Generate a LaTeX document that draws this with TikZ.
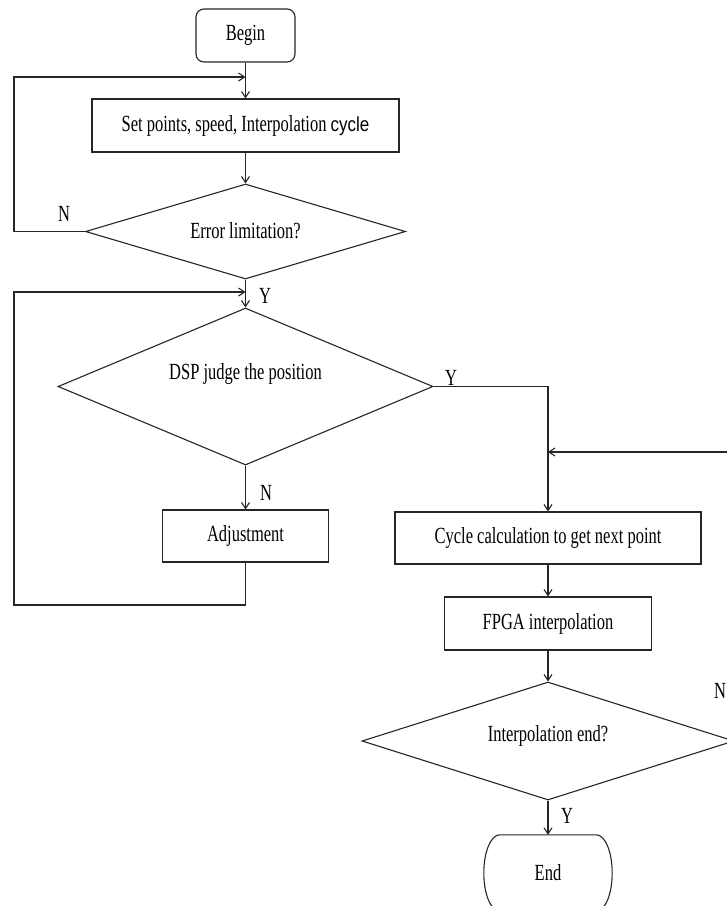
\documentclass[tikz,border=0pt]{standalone}
\usepackage{graphicx}
\usepackage{fontspec}
\setmainfont{Liberation Serif}
\newfontfamily\arialf{Liberation Sans}
\usetikzlibrary{shapes.geometric,arrows.meta}
\newcommand{\vstretch}[1]{\raisebox{-1.5pt}{\scalebox{1}[1.4]{#1}}}
\tikzset{
  ln/.style={line width=1.1pt, draw=black!85},
  arr/.style={ln, -{Straight Barb[length=6pt,width=8pt]}},
  txt/.style={font=\fontsize{16.5}{18}\selectfont, text=black},
  stepbox/.style={ln, txt, rectangle, inner sep=0pt},
  termbox/.style={ln, txt, rectangle, rounded corners=8pt, inner sep=0pt},
  endbox/.style={txt, rectangle, inner sep=0pt},
  decbox/.style={ln, txt, diamond, inner sep=0pt},
  lbl/.style={txt, inner sep=0pt}
}
\begin{document}
\begin{tikzpicture}[x=1pt,y=-1pt]
\useasboundingbox (0,0) rectangle (727,906);
\clip (0,0) rectangle (727,906);
\fill[white] (0,0) rectangle (727,906);

% left column
\node[termbox, minimum width=99pt, minimum height=53pt] (begin) at (245.5,35.5) {\vstretch{Begin}};
\node[stepbox, minimum width=307pt, minimum height=53pt] (set) at (245.5,125.5)
  {\vstretch{Set points, speed, Interpolation {\arialf\fontsize{17}{18}\selectfont\scalebox{1}[0.85]{cycle}}}};
\node[decbox, aspect=3.37, minimum width=320pt, minimum height=95pt] (err) at (245.5,231.5)
  {\raisebox{4pt}{\vstretch{Error limitation?}}};
\node[decbox, aspect=2.4, minimum width=375pt, minimum height=157pt] (dsp) at (245.5,386.5)
  {\raisebox{32pt}{\vstretch{DSP judge the position}}};
\node[stepbox, minimum width=166pt, minimum height=52pt] (adj) at (245.5,536) {\vstretch{Adjustment}};

% right column
\node[stepbox, minimum width=306pt, minimum height=52pt] (cyc) at (548,538)
  {\vstretch{Cycle calculation to get next point}};
\node[stepbox, minimum width=207pt, minimum height=53pt] (fpga) at (548,623.5)
  {\vstretch{FPGA interpolation}};
\node[decbox, aspect=3.15, minimum width=372pt, minimum height=118pt] (ie) at (548,741)
  {\raisebox{16pt}{\vstretch{Interpolation end?}}};
\node[endbox, minimum width=128pt, minimum height=76pt] (end) at (548,873) {\raisebox{-4pt}{\vstretch{End}}};
\draw[ln] ([xshift=16pt]end.north west) -- ([xshift=-16pt]end.north east)
  .. controls ([xshift=-7pt]end.north east) and ([yshift=21pt]end.east) .. (end.east)
  .. controls ([yshift=-21pt]end.east) and ([xshift=-7pt]end.south east) .. ([xshift=-16pt]end.south east)
  -- ([xshift=16pt]end.south west)
  .. controls ([xshift=7pt]end.south west) and ([yshift=-21pt]end.west) .. (end.west)
  .. controls ([yshift=21pt]end.west) and ([xshift=7pt]end.north west) .. ([xshift=16pt]end.north west) -- cycle;

% labels
\node[lbl] (nerr) at (64,214) {\vstretch{N}};
\node[lbl] (yerr) at (265,296) {\vstretch{Y}};
\node[lbl] (ndsp) at (266,493) {\vstretch{N}};
\node[lbl] (ydsp) at (451,378) {\vstretch{Y}};
\node[lbl] (yie) at (567,816) {\vstretch{Y}};
\node[lbl] (nie) at (720,691) {\vstretch{N}};

% helper coordinates
\coordinate (l1a) at (14,231.5);
\coordinate (l1b) at (14,77);
\coordinate (j1) at (245.5,77);
\coordinate (l2a) at (245.5,605);
\coordinate (l2b) at (14,605);
\coordinate (l2c) at (14,292);
\coordinate (j2) at (245.5,292);
\coordinate (r1) at (775,741);
\coordinate (r2) at (775,452);
\coordinate (j3) at (548,452);

% connectors
\draw[arr] (begin) -- (set);
\draw[arr] (set) -- (err);
\draw[arr] (err) -- (dsp);
\draw[arr] (dsp) -- (adj);
\draw[arr] (err.west) -- (l1a) -- (l1b) -- (j1);
\draw[arr] (adj.south) -- (l2a) -- (l2b) -- (l2c) -- (j2);
\draw[arr] (dsp.east) -| (cyc.north);
\draw[arr] (cyc) -- (fpga);
\draw[arr] (fpga) -- (ie);
\draw[arr] (ie) -- (end);
\draw[arr] (ie.east) -- (r1) -- (r2) -- (j3);
\end{tikzpicture}
\end{document}
